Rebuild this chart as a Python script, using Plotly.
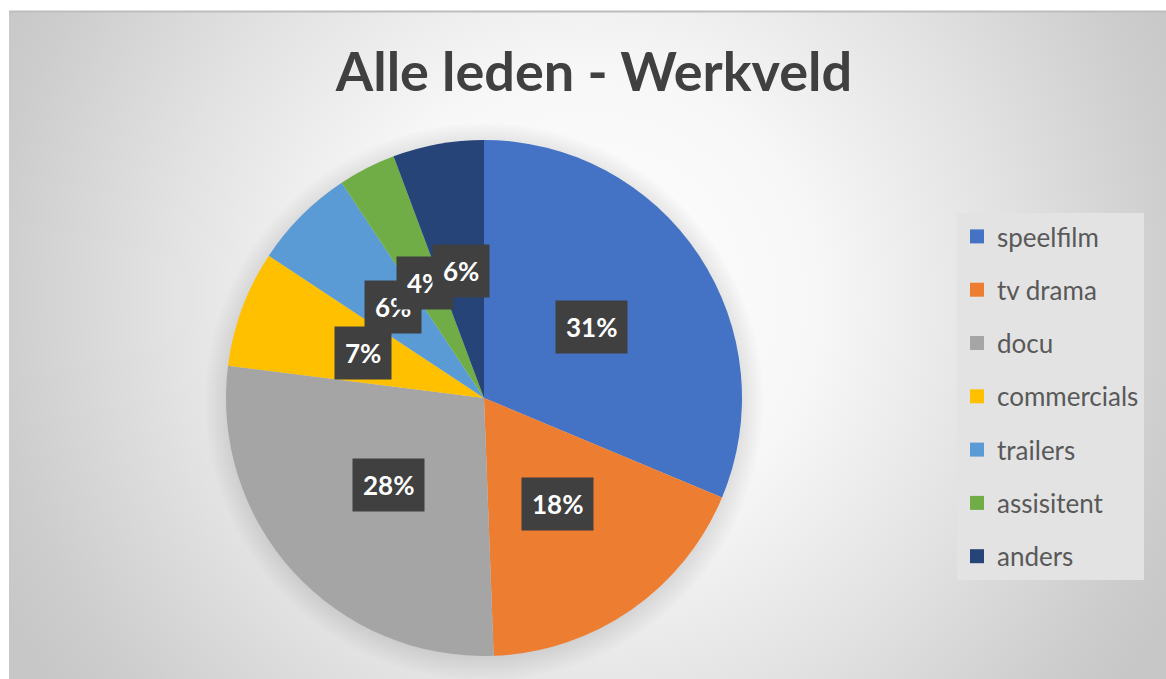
import base64
import math
import plotly.graph_objects as go

# ---- data ----
labels = ["speelfilm", "tv drama", "docu", "commercials", "trailers", "assisitent", "anders"]
values = [31.3, 18.1, 27.6, 7.3, 6.4, 3.6, 5.7]
colors = ["#4472C4", "#ED7D31", "#A5A5A5", "#FFC000", "#5B9BD5", "#70AD47", "#264478"]
title_text = "Alle leden - Werkveld"

# ---- geometry (pixels) ----
W, H = 1166, 679
CX, CY, R = 484, 398, 258
LABEL_R = 0.5

dom_x = [(CX - R) / W, (CX + R) / W]
dom_y = [1 - (CY + R) / H, 1 - (CY - R) / H]

# ---- background (radial gradient + pie shadow) ----
svg = f"""<svg xmlns='http://www.w3.org/2000/svg' width='{W}' height='{H}' viewBox='0 0 {W} {H}' preserveAspectRatio='none'>
<defs>
<radialGradient id='bg' gradientUnits='userSpaceOnUse' cx='588' cy='300' r='660'>
<stop offset='0' stop-color='#ffffff'/>
<stop offset='0.35' stop-color='#f7f7f7'/>
<stop offset='0.64' stop-color='#e2e2e2'/>
<stop offset='0.9' stop-color='#cdcdcd'/>
<stop offset='1' stop-color='#c7c7c7'/>
</radialGradient>
<radialGradient id='sh' gradientUnits='userSpaceOnUse' cx='{CX}' cy='{CY + 4}' r='{R + 22}'>
<stop offset='0.9' stop-color='#000000' stop-opacity='0.12'/>
<stop offset='1' stop-color='#000000' stop-opacity='0'/>
</radialGradient>
</defs>
<rect x='0' y='0' width='{W}' height='{H}' fill='#ffffff'/>
<rect x='9' y='11' width='{W - 9}' height='{H - 11}' fill='url(#bg)'/>
<line x1='9' y1='11.5' x2='{W}' y2='11.5' stroke='#bdbdbd' stroke-width='2'/>
<circle cx='{CX}' cy='{CY + 4}' r='{R + 22}' fill='url(#sh)'/>
</svg>"""
bg_uri = "data:image/svg+xml;base64," + base64.b64encode(svg.encode()).decode()

fig = go.Figure()
fig.add_trace(go.Pie(
    labels=labels, values=values, sort=False, direction="clockwise", rotation=0,
    marker=dict(colors=colors, line=dict(width=0)),
    textinfo="none", hoverinfo="label+percent", showlegend=False,
    domain=dict(x=dom_x, y=dom_y),
))

for lab, col in zip(labels, colors):
    fig.add_trace(go.Scatter(
        x=[None], y=[None], mode="markers", name=lab, legendgroup=lab,
        marker=dict(symbol="square", size=14, color=col), showlegend=True,
    ))

# data labels in dark boxes, placed at the middle angle of each slice
total = sum(values)
cum = 0.0
annotations = []
for v in values:
    mid = (cum + v / 2) / total * 2 * math.pi
    cum += v
    px = CX + LABEL_R * R * math.sin(mid)
    py = CY - LABEL_R * R * math.cos(mid)
    annotations.append(dict(
        x=px / W, y=1 - py / H, xref="paper", yref="paper",
        xanchor="center", yanchor="middle", showarrow=False,
        text=f"{round(v / total * 100)}%", borderpad=10,
        bgcolor="#404040",
        font=dict(family="Lato", size=26, color="#ffffff", weight="bold"),
    ))

fig.update_layout(
    width=W, height=H, autosize=False,
    margin=dict(l=0, r=0, t=0, b=0, pad=0),
    paper_bgcolor="#ffffff", plot_bgcolor="rgba(0,0,0,0)",
    xaxis=dict(visible=False), yaxis=dict(visible=False),
    title=dict(text=title_text, x=594 / W, xanchor="center", y=1 - 72 / H, yanchor="middle",
               yref="container", xref="container",
               font=dict(family="Lato", size=54, color="#404040", weight="bold")),
    legend=dict(x=957 / W, y=1 - 213 / H, xanchor="left", yanchor="top",
                bgcolor="#e3e3e3", font=dict(family="Lato", size=26, color="#595959"),
                tracegroupgap=16.5, itemclick=False, itemdoubleclick=False),
    annotations=annotations,
    images=[dict(source=bg_uri, xref="paper", yref="paper", x=0, y=1, sizex=1, sizey=1,
                 xanchor="left", yanchor="top", sizing="stretch", layer="below")],
    hovermode=False,
)

fig.write_html("out.html", config={"displayModeBar": False},
               post_script="document.body.style.margin='0';document.body.style.overflow='hidden';")
